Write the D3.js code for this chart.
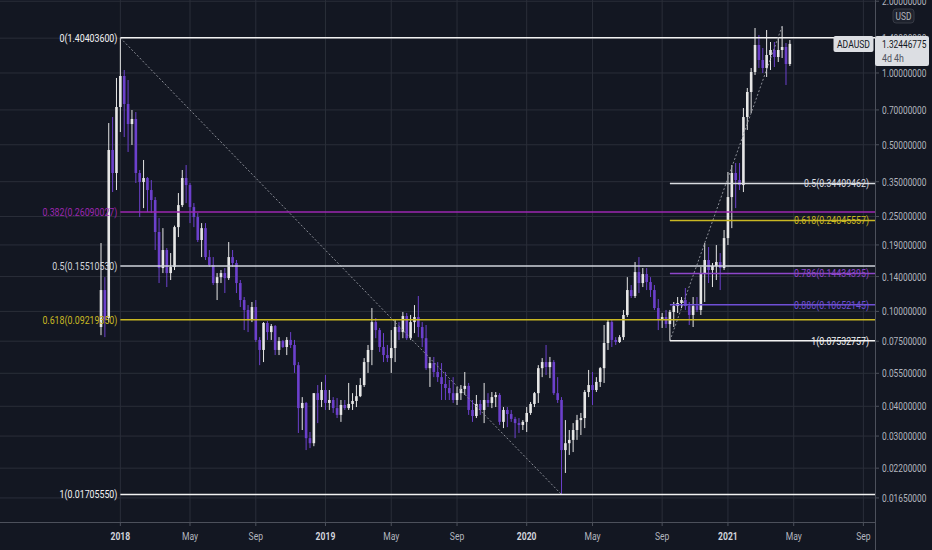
<!DOCTYPE html>
<html><head><meta charset="utf-8">
<script src="https://cdn.jsdelivr.net/npm/d3@7"></script>
<style>html,body{margin:0;padding:0;background:#131722;overflow:hidden}svg{display:block}</style>
</head><body><svg id="c" width="932" height="550"></svg>
<script>
// ---- data: ADAUSD weekly candles, first bar week of 2017-11-27 ----
const firstWeek = "2017-11-27";
const open = [0.0860,0.1229,0.0938,0.4754,0.3806,0.7200,0.9714,0.7413,0.6108,0.6413,
0.3806,0.3488,0.3626,0.3229,0.2932,0.2153,0.1520,0.1809,0.1448,0.1535,
0.2257,0.2792,0.3626,0.3388,0.2739,0.2487,0.1993,0.2235,0.1690,0.1565,
0.1315,0.1392,0.1448,0.1379,0.1690,0.1596,0.1315,0.1116,0.1014,0.0920,
0.1043,0.0759,0.0689,0.0894,0.0819,0.0868,0.0689,0.0751,0.0709,0.0759,
0.0723,0.0595,0.0393,0.0413,0.0294,0.0280,0.0454,0.0425,0.0468,0.0413,
0.0425,0.0393,0.0368,0.0405,0.0393,0.0409,0.0421,0.0441,0.0491,0.0613,
0.0689,0.0902,0.0835,0.0709,0.0656,0.0637,0.0702,0.0860,0.0819,0.0956,
0.0772,0.0902,0.0947,0.0860,0.0772,0.0578,0.0607,0.0557,0.0530,0.0496,
0.0477,0.0454,0.0425,0.0454,0.0473,0.0487,0.0386,0.0364,0.0409,0.0386,
0.0425,0.0413,0.0437,0.0446,0.0344,0.0386,0.0371,0.0354,0.0340,0.0334,
0.0344,0.0375,0.0409,0.0454,0.0578,0.0613,0.0584,0.0613,0.0454,0.0425,
0.0262,0.0280,0.0289,0.0318,0.0350,0.0357,0.0459,0.0491,0.0468,0.0506,
0.0578,0.0737,0.0902,0.0759,0.0744,0.0780,0.0966,0.1229,0.1160,0.1462,
0.1315,0.1434,0.1328,0.1229,0.1033,0.0920,0.0947,0.0885,0.0994,0.1053,
0.1084,0.1116,0.1053,0.0966,0.1053,0.1014,0.1448,0.1643,0.1491,0.1550,
0.1611,0.1520,0.2030,0.3017,0.3806,0.3557,0.3388,0.6536,0.8323,1.0097,
1.3105,1.1338,1.0495,1.1899,1.2488,1.1671,1.2488,1.2855,1.0908];
const high = [0.1935,0.1392,0.6167,0.6536,0.9529,1.404036,1.0294,0.9346,0.6994,0.6859,
0.3918,0.4316,0.3661,0.3557,0.3017,0.2463,0.2235,0.1844,0.1757,0.2290,
0.3136,0.3918,0.4111,0.3455,0.2847,0.2586,0.2347,0.2347,0.1809,0.1690,
0.1448,0.1491,0.1520,0.1954,0.1809,0.1643,0.1354,0.1149,0.1063,0.1095,
0.1116,0.0780,0.0902,0.0911,0.0885,0.0877,0.0780,0.0759,0.0780,0.0819,
0.0759,0.0613,0.0437,0.0417,0.0312,0.0454,0.0491,0.0506,0.0541,0.0468,
0.0437,0.0433,0.0425,0.0425,0.0501,0.0454,0.0491,0.0525,0.0637,0.0723,
0.1033,0.0938,0.0852,0.0811,0.0723,0.0835,0.0920,0.0902,0.0994,0.0985,
0.0966,0.1063,0.1160,0.0902,0.0877,0.0644,0.0644,0.0613,0.0607,0.0557,
0.0516,0.0530,0.0482,0.0491,0.0557,0.0501,0.0425,0.0446,0.0425,0.0501,
0.0454,0.0459,0.0459,0.0454,0.0397,0.0397,0.0386,0.0361,0.0357,0.0350,
0.0397,0.0417,0.0459,0.0595,0.0637,0.0723,0.0644,0.0625,0.0530,0.0437,
0.0350,0.0318,0.0340,0.0368,0.0375,0.0468,0.0568,0.0557,0.0530,0.0584,
0.0877,0.0920,0.0920,0.0780,0.0795,0.1014,0.1392,0.1290,0.1611,0.1690,
0.1520,0.1520,0.1392,0.1290,0.1127,0.0985,0.1014,0.1014,0.1095,0.1149,
0.1149,0.1253,0.1095,0.1149,0.1149,0.1535,0.1935,0.1862,0.1596,0.1898,
0.1757,0.2195,0.3843,0.4111,0.4192,0.4192,0.7130,0.8652,1.0495,1.5445,
1.4431,1.2731,1.5145,1.3490,1.3490,1.4025,1.5718,1.3360,1.3751];
const low = [0.0795,0.0780,0.0902,0.3167,0.3229,0.5656,0.5386,0.4663,0.4990,0.3455,
0.2487,0.2712,0.2611,0.2586,0.1809,0.1315,0.1448,0.1265,0.1354,0.1491,
0.2050,0.2739,0.2847,0.2347,0.2257,0.1954,0.1690,0.1643,0.1535,0.1290,
0.1116,0.1315,0.1194,0.1354,0.1535,0.1194,0.1043,0.0835,0.0819,0.0902,
0.0744,0.0595,0.0613,0.0759,0.0759,0.0656,0.0656,0.0702,0.0656,0.0702,
0.0552,0.0309,0.0318,0.0262,0.0267,0.0272,0.0340,0.0397,0.0386,0.0386,
0.0375,0.0357,0.0344,0.0386,0.0386,0.0386,0.0397,0.0437,0.0482,0.0552,
0.0595,0.0772,0.0676,0.0613,0.0613,0.0552,0.0613,0.0759,0.0772,0.0759,
0.0759,0.0811,0.0780,0.0709,0.0568,0.0482,0.0530,0.0506,0.0425,0.0425,
0.0425,0.0413,0.0405,0.0425,0.0446,0.0368,0.0344,0.0357,0.0368,0.0340,
0.0397,0.0393,0.0397,0.0334,0.0324,0.0327,0.0344,0.0294,0.0309,0.0318,
0.0312,0.0368,0.0397,0.0413,0.0530,0.0541,0.0525,0.0446,0.0413,0.0170555,
0.0210,0.0250,0.0257,0.0289,0.0303,0.0324,0.0437,0.0405,0.0459,0.0482,
0.0501,0.0689,0.0709,0.0723,0.0737,0.0759,0.0947,0.1138,0.1138,0.1194,
0.1265,0.1229,0.1149,0.1014,0.0835,0.0852,0.0852,0.07532757,0.0860,0.0985,
0.1033,0.1014,0.0877,0.0860,0.0994,0.0966,0.1095,0.1315,0.1265,0.1354,
0.1229,0.1491,0.1898,0.2235,0.2712,0.3229,0.3167,0.5767,0.6796,0.9809,
1.0495,1.0000,0.9621,1.0294,1.0596,1.1121,1.1559,0.8906,1.0700];
const close = [0.1229,0.0920,0.4754,0.3806,0.7200,0.9714,0.7413,0.6108,0.6413,0.3806,
0.3488,0.3626,0.3229,0.2932,0.2153,0.1520,0.1809,0.1448,0.1535,0.2257,
0.2792,0.3626,0.3388,0.2739,0.2487,0.1993,0.2235,0.1690,0.1565,0.1315,
0.1392,0.1448,0.1379,0.1690,0.1596,0.1315,0.1116,0.1014,0.0920,0.1043,
0.0759,0.0689,0.0894,0.0819,0.0868,0.0689,0.0751,0.0709,0.0759,0.0723,
0.0595,0.0393,0.0413,0.0294,0.0280,0.0454,0.0425,0.0468,0.0413,0.0425,
0.0393,0.0368,0.0405,0.0393,0.0409,0.0421,0.0441,0.0491,0.0613,0.0689,
0.0902,0.0835,0.0709,0.0656,0.0637,0.0702,0.0860,0.0819,0.0956,0.0772,
0.0902,0.0947,0.0860,0.0772,0.0578,0.0607,0.0557,0.0530,0.0496,0.0477,
0.0454,0.0425,0.0454,0.0473,0.0487,0.0386,0.0364,0.0409,0.0386,0.0425,
0.0413,0.0437,0.0446,0.0344,0.0386,0.0371,0.0354,0.0340,0.0334,0.0344,
0.0375,0.0409,0.0454,0.0578,0.0613,0.0584,0.0613,0.0454,0.0425,0.0262,
0.0280,0.0289,0.0318,0.0350,0.0357,0.0459,0.0491,0.0468,0.0506,0.0578,
0.0737,0.0902,0.0759,0.0744,0.0780,0.0966,0.1229,0.1160,0.1462,0.1315,
0.1434,0.1328,0.1229,0.1033,0.0920,0.0947,0.0885,0.0994,0.1053,0.1084,
0.1116,0.1053,0.0966,0.1053,0.1014,0.1448,0.1643,0.1491,0.1550,0.1611,
0.1520,0.2030,0.3017,0.3806,0.3557,0.3388,0.6536,0.8323,1.0097,1.3105,
1.1338,1.0495,1.1899,1.2488,1.1671,1.2488,1.2855,1.0908,1.32446775];

const yTicks = [2.0,1.4,1.0,0.7,0.5,0.35,0.25,0.19,0.14,0.10,0.075,0.055,0.04,0.03,0.022,0.0165];
const xTickMonths = ["2018-01","2018-05","2018-09","2019-01","2019-05","2019-09","2020-01","2020-05","2020-09","2021-01","2021-05","2021-09"];
const xTickLabels = ["2018","May","Sep","2019","May","Sep","2020","May","Sep","2021","May","Sep"];

// Fibonacci retracement 1 (Jan 2018 top -> Mar 2020 low)
const fibLeftFrom = "2018-01-01", fibLeftTo = "2020-03-09";
const fibLeftLevels = ["0","0.382","0.5","0.618","1"];
const fibLeftValues = [1.404036,0.26090027,0.15510530,0.09219350,0.01705550];
// Fibonacci retracement 2 (Sep 2020 low -> Apr 2021 top)
const fibRightFrom = "2020-09-21", fibRightTo = "2021-04-12";
const fibRightTop = 1.5718;
const fibRightLevels = ["0.5","0.618","0.786","0.886","1"];
const fibRightValues = [0.34409462,0.24045557,0.14434395,0.10652145,0.07532757];

const symbol = "ADAUSD", lastPrice = "1.32446775", countdown = "4d 4h", currency = "USD";

// ---- layout / style ----
const W = 932, H = 550, plotR = 875, plotB = 522;
const bg = "#131722", gridC = "#2a2e39", axisC = "#4c505b", textC = "#b2b5be";
const bullC = "#e6e6e6", bearC = "#6c40cc";
const leftColors = ["#f2f2f2","#9c27b0","#d1d4dc","#c9b823","#f2f2f2"];
const rightColors = ["#d8dbe0","#c9b823","#8e46c9","#6f4fd6","#f2f2f2"];
const FONT = "Roboto, 'Noto Sans', sans-serif";

const parse = d3.utcParse("%Y-%m-%d");
const parseM = d3.utcParse("%Y-%m");
const t0 = parse(firstWeek);
const dates = open.map((_, i) => d3.utcWeek.offset(t0, i));
const barStep = 3.87;

const x = d3.scaleUtc().domain([dates[0], dates[dates.length - 1]])
  .range([101, 101 + barStep * (dates.length - 1)]);
const y = d3.scaleLog().domain([2.0, 0.0165]).range([1.23, 497.95]);

const svg = d3.select("#c");
svg.append("rect").attr("width", W).attr("height", H).attr("fill", bg);

function txt(g, px, py, s, o = {}) {
  const sx = o.sx || 0.78;
  return g.append("text")
    .attr("transform", `translate(${px},${py}) scale(${sx},1)`)
    .attr("text-anchor", o.anchor || "start")
    .attr("dominant-baseline", "central")
    .attr("font-family", FONT)
    .attr("font-size", o.size || 11)
    .attr("font-weight", o.weight || 400)
    .attr("fill", o.fill || textC)
    .text(s);
}

// x tick positions: first weekly bar starting inside each period
const xTickDates = xTickMonths.map(m => d3.utcMonday.ceil(parseM(m)));

// grid
const grid = svg.append("g");
grid.selectAll("line.h").data(yTicks).join("line")
  .attr("x1", 0).attr("x2", plotR).attr("y1", d => y(d)).attr("y2", d => y(d))
  .attr("stroke", gridC).attr("stroke-width", 1);
grid.selectAll("line.v").data(xTickDates).join("line")
  .attr("x1", d => x(d)).attr("x2", d => x(d)).attr("y1", 0).attr("y2", plotB)
  .attr("stroke", gridC).attr("stroke-width", 1);

// candles
const plot = svg.append("g");
const bars = d3.range(open.length);
plot.selectAll("line.wick").data(bars).join("line")
  .attr("x1", i => x(dates[i])).attr("x2", i => x(dates[i]))
  .attr("y1", i => y(high[i])).attr("y2", i => y(low[i]))
  .attr("stroke", i => close[i] >= open[i] ? bullC : bearC).attr("stroke-width", 1);
plot.selectAll("rect.body").data(bars).join("rect")
  .attr("x", i => x(dates[i]) - 1.3).attr("width", 2.6)
  .attr("y", i => y(Math.max(open[i], close[i])))
  .attr("height", i => Math.max(1, y(Math.min(open[i], close[i])) - y(Math.max(open[i], close[i]))))
  .attr("fill", i => close[i] >= open[i] ? bullC : bearC);

// fib drawings
const fib = svg.append("g");
const lx0 = x(parse(fibLeftFrom)), lx1 = x(parse(fibLeftTo));
fib.append("line").attr("x1", lx0).attr("y1", y(fibLeftValues[0]))
  .attr("x2", lx1).attr("y2", y(fibLeftValues[4]))
  .attr("stroke", "#8a8d96").attr("stroke-width", 1).attr("stroke-dasharray", "2,2");
fibLeftValues.forEach((v, k) => {
  fib.append("line").attr("x1", lx0).attr("x2", plotR).attr("y1", y(v)).attr("y2", y(v))
    .attr("stroke", leftColors[k]).attr("stroke-width", 1.5);
  txt(fib, lx0 - 3, y(v), `${fibLeftLevels[k]}(${fibLeftValues[k].toFixed(8)})`,
    { anchor: "end", fill: leftColors[k], sx: 0.8 });
});
const rx0 = x(parse(fibRightFrom)), rx1 = x(parse(fibRightTo));
fib.append("line").attr("x1", rx0).attr("y1", y(fibRightValues[4]))
  .attr("x2", rx1).attr("y2", y(fibRightTop))
  .attr("stroke", "#8a8d96").attr("stroke-width", 1).attr("stroke-dasharray", "2,2");
fibRightValues.forEach((v, k) => {
  fib.append("line").attr("x1", rx0).attr("x2", plotR).attr("y1", y(v)).attr("y2", y(v))
    .attr("stroke", rightColors[k]).attr("stroke-width", 1.5);
  txt(fib, 869, y(v), `${fibRightLevels[k]}(${fibRightValues[k].toFixed(8)})`,
    { anchor: "end", fill: rightColors[k], sx: 0.8 });
});

// axes
const ax = svg.append("g");
ax.append("rect").attr("x", plotR).attr("y", 0).attr("width", W - plotR).attr("height", H).attr("fill", bg);
ax.append("rect").attr("x", 0).attr("y", plotB).attr("width", plotR).attr("height", H - plotB).attr("fill", bg);
ax.append("line").attr("x1", plotR + 0.5).attr("x2", plotR + 0.5).attr("y1", 0).attr("y2", H)
  .attr("stroke", axisC);
ax.append("line").attr("x1", 0).attr("x2", plotR).attr("y1", plotB + 0.5).attr("y2", plotB + 0.5)
  .attr("stroke", axisC);
const fmt = d3.format(".8f");
yTicks.forEach(t => {
  ax.append("line").attr("x1", plotR).attr("x2", plotR + 4).attr("y1", y(t)).attr("y2", y(t)).attr("stroke", axisC);
  txt(ax, 882, y(t), fmt(t), { sx: 0.76 });
});
xTickDates.forEach((d, k) => {
  ax.append("line").attr("x1", x(d)).attr("x2", x(d)).attr("y1", plotB).attr("y2", plotB + 4).attr("stroke", axisC);
  const isYear = /^\d{4}$/.test(xTickLabels[k]);
  txt(ax, x(d), 536, xTickLabels[k], { anchor: "middle", weight: isYear ? 700 : 400, sx: 0.78, fill: isYear ? "#d1d4dc" : textC });
});

// currency box
ax.append("rect").attr("x", 893).attr("y", 9).attr("width", 21).attr("height", 14).attr("rx", 3)
  .attr("fill", "#1e222d").attr("stroke", "#363a45");
txt(ax, 903.5, 16, currency, { anchor: "middle", size: 10.5, sx: 0.8 });

// last price labels
const lp = y(+lastPrice);
ax.append("rect").attr("x", 833.5).attr("y", lp - 8).attr("width", 40).attr("height", 16).attr("rx", 2)
  .attr("fill", "#dcdee3");
txt(ax, 853.5, lp, symbol, { anchor: "middle", fill: "#131722", sx: 0.78 });
ax.append("rect").attr("x", 875).attr("y", lp - 8).attr("width", 54).attr("height", 30).attr("rx", 2)
  .attr("fill", "#dcdee3");
txt(ax, 882, lp, lastPrice, { fill: "#131722", sx: 0.76 });
txt(ax, 882, lp + 14, countdown, { fill: "#50535e", sx: 0.8 });
</script></body></html>
